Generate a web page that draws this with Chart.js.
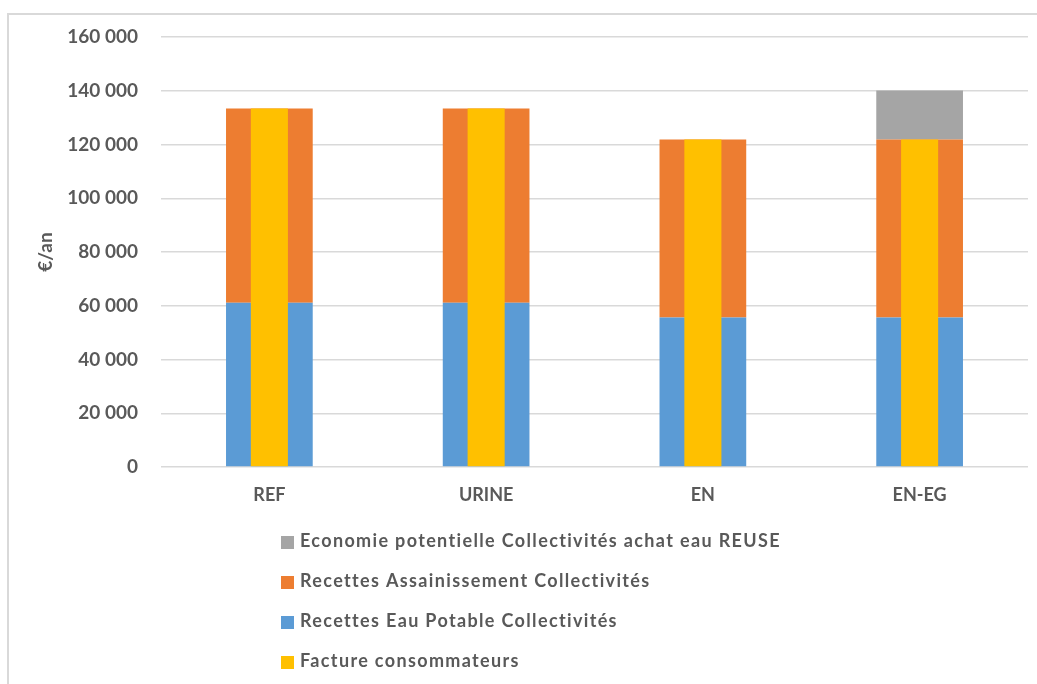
<!DOCTYPE html>
<html>
<head>
<meta charset="utf-8">
<script src="https://cdn.jsdelivr.net/npm/chart.js@4.4.0/dist/chart.umd.min.js"></script>
<style>
  body { margin: 0; overflow: hidden; background: #fff; }
  #frame { position: absolute; left: 7px; top: 13px; width: 1100px; height: 700px; border: 2px solid #d9d9d9; }
  #wrap { position: absolute; left: 0; top: 0; width: 1037px; height: 684px; }
</style>
</head>
<body>
<div id="frame"></div>
<div id="wrap"><canvas id="myChart"></canvas></div>
<script>
const categories = ['REF', 'URINE', 'EN', 'EN-EG'];
const eauPotable = [61100, 61100, 55600, 55600];
const assainissement = [72300, 72300, 66250, 66250];
const reuse = [null, null, null, 18200];
const facture = [133400, 133400, 121850, 121850];
const yTicks = [0, 20000, 40000, 60000, 80000, 100000, 120000, 140000, 160000];

const txtColor = '#595959';
const fontFam = 'Lato, "Open Sans", sans-serif';

// thousands with a plain space, like "160 000"
function fmt(v) {
  return String(v).replace(/\B(?=(\d{3})+(?!\d))/g, ' ');
}

// legend is a vertical list, drawn by hand
const listLegend = {
  id: 'listLegend',
  afterDraw: function (chart) {
    const c = chart.ctx;
    const order = [2, 1, 0, 3];
    c.save();
    c.font = 'bold 18px ' + fontFam;
    c.letterSpacing = '1.35px';
    c.textBaseline = 'alphabetic';
    c.textAlign = 'left';
    for (let i = 0; i < order.length; i++) {
      const ds = chart.data.datasets[order[i]];
      const base = 547 + i * 40;
      c.fillStyle = ds.backgroundColor;
      c.fillRect(281, base - 11, 13, 13);
      c.fillStyle = txtColor;
      c.fillText(ds.label, 300, base);
    }
    c.restore();
  },
};

const ctx = document.getElementById('myChart');

new Chart(ctx, {
  type: 'bar',
  data: {
    labels: categories,
    datasets: [
      {
        label: 'Recettes Eau Potable Collectivités',
        data: eauPotable,
        backgroundColor: '#5B9BD5',
        stack: 'main',
        order: 1,
        grouped: false,
        barPercentage: 0.4,
        categoryPercentage: 1,
      },
      {
        label: 'Recettes Assainissement Collectivités',
        data: assainissement,
        backgroundColor: '#ED7D31',
        stack: 'main',
        order: 2,
        grouped: false,
        barPercentage: 0.4,
        categoryPercentage: 1,
      },
      {
        label: 'Economie potentielle Collectivités achat eau REUSE',
        data: reuse,
        backgroundColor: '#A5A5A5',
        stack: 'main',
        order: 3,
        grouped: false,
        barPercentage: 0.4,
        categoryPercentage: 1,
      },
      {
        label: 'Facture consommateurs',
        data: facture,
        backgroundColor: '#FFC000',
        stack: 'fact',
        order: 0,
        grouped: false,
        barPercentage: 0.171,
        categoryPercentage: 1,
      },
    ],
  },
  options: {
    responsive: true,
    maintainAspectRatio: false,
    animation: false,
    layout: {
      padding: { left: 0, right: 9, top: 37, bottom: 167 },
    },
    plugins: {
      legend: { display: false },
      tooltip: { enabled: false },
    },
    scales: {
      x: {
        stacked: true,
        grid: { display: false, drawTicks: false },
        border: { display: false },
        ticks: {
          color: txtColor,
          font: { family: fontFam, size: 18, weight: 'bold' },
          padding: 17,
        },
        afterFit: function (scale) {
          scale.height = 50;
        },
      },
      y: {
        stacked: true,
        min: 0,
        max: 160000,
        afterBuildTicks: function (scale) {
          scale.ticks = yTicks.map(function (v) {
            return { value: v };
          });
        },
        grid: { color: '#d9d9d9', lineWidth: 1.5, drawTicks: false },
        border: { display: false },
        ticks: {
          color: txtColor,
          font: { family: fontFam, size: 19, weight: 'bold' },
          padding: 23,
          callback: function (v) {
            return fmt(v);
          },
        },
        title: {
          display: true,
          text: '€/an',
          color: txtColor,
          font: { family: fontFam, size: 19, weight: 'bold' },
          padding: { top: 34, bottom: 0 },
        },
        afterFit: function (scale) {
          scale.width = 161;
        },
      },
    },
  },
  plugins: [listLegend],
});
</script>
</body>
</html>
